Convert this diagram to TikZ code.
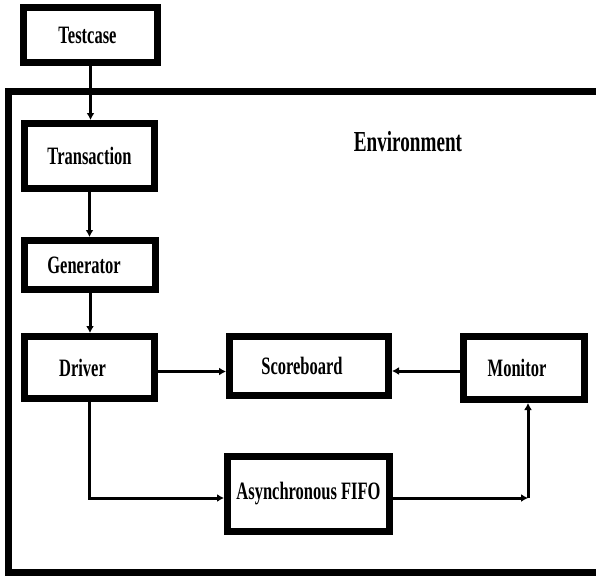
\documentclass[tikz,border=0pt]{standalone}
\usepackage{fontspec}
\setmainfont{Liberation Serif}[FakeStretch=0.66]
\usetikzlibrary{arrows.meta,calc}
\newcommand{\txtleft}[2]{\hspace*{-#1}#2}
\tikzset{
  blk/.style={draw=black, line width=7pt, fill=white, inner sep=0pt, font=\fontsize{25}{27}\selectfont\bfseries},
  conn/.style={line width=3pt, -{Latex[length=7pt,width=8pt]}},
  frame/.style={line width=7pt}
}
\begin{document}
\begin{tikzpicture}[x=1pt,y=1pt]
\clip (0,0) rectangle (596,-575);
\fill[white] (0,0) rectangle (596,-575);
% environment frame
\draw[frame] (620,-92) -- (8.5,-92) -- (8.5,-572) -- (620,-572);
\node[font=\fontsize{29}{31}\selectfont\bfseries] (env) at (408,-142) {Environment};
% blocks
\node[blk, minimum width=134pt, minimum height=55pt] (tc) at (90.5,-35) {\txtleft{6pt}{Testcase}};
\node[blk, minimum width=130pt, minimum height=65pt] (tr) at (89.5,-156) {Transaction};
\node[blk, minimum width=131pt, minimum height=49pt] (gen) at (90,-265) {\txtleft{12pt}{Generator}};
\node[blk, minimum width=130pt, minimum height=62pt] (dr) at (89.5,-367.5) {\txtleft{14pt}{Driver}};
\node[blk, minimum width=159pt, minimum height=59pt] (sb) at (309,-366) {\txtleft{14pt}{Scoreboard}};
\node[blk, minimum width=121pt, minimum height=63pt] (mo) at (524,-368) {\txtleft{14pt}{\raisebox{-3pt}{Monitor}}};
\node[blk, minimum width=162pt, minimum height=75pt] (ff) at (308.5,-494) {\raisebox{4pt}{Asynchronous FIFO}};
\coordinate (c) at (528,-498);
% connectors
\draw[conn] (tc.south) -- (tc.south |- tr.north);
\draw[conn] (tr.south) -- (tr.south |- gen.north);
\draw[conn] (gen.south) -- (gen.south |- dr.north);
\draw[conn] ($(dr.east)+(0,-4)$) -- ($(dr.east -| sb.west)+(0,-4)$);
\draw[conn] ($(mo.west)+(0,-3)$) -- ($(mo.west -| sb.east)+(0,-3)$);
\draw[conn] (dr.south) |- ($(ff.west)+(0,-4)$);
\draw[conn] ($(ff.east)+(0,-4)$) -- (c);
\draw[conn] (c) -- (c |- mo.south);
\end{tikzpicture}
\end{document}
